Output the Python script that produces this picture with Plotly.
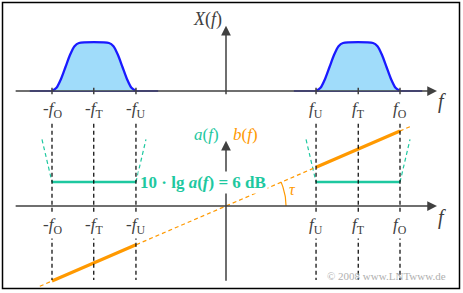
import numpy as np
import plotly.graph_objects as go

# ---- data (frequency units) ----
f_U, f_T, f_O = 2.07, 3.04, 4.0
tick_pos = [-f_O, -f_T, -f_U, f_U, f_T, f_O]
tick_txt = ["-<i>f</i><sub>O</sub>", "-<i>f</i><sub>T</sub>", "-<i>f</i><sub>U</sub>",
            "<i>f</i><sub>U</sub>", "<i>f</i><sub>T</sub>", "<i>f</i><sub>O</sub>"]

# spectrum X(f): right lobe and left lobe
specR_f = [1.56, 2.07, 2.173, 2.277, 2.38, 2.483, 2.587, 2.69, 3.38, 3.483, 3.587, 3.69, 3.793, 3.897, 4.0, 4.51]
specR_X = [0, 0, 0.067, 0.25, 0.5, 0.75, 0.933, 1.0, 1.0, 0.933, 0.75, 0.5, 0.25, 0.067, 0, 0]
specL_f = [-4.51, -4.0, -3.897, -3.793, -3.69, -3.587, -3.483, -3.38, -2.69, -2.587, -2.483, -2.38, -2.277, -2.173, -2.07, -1.56]
specL_X = [0, 0, 0.067, 0.25, 0.5, 0.75, 0.933, 1.0, 1.0, 0.933, 0.75, 0.5, 0.25, 0.067, 0, 0]

# attenuation a(f) level (plot units) inside the bands, and its dashed flanks
a_level = 0.55
a_flankL_f = [-4.23, -4.0, None, -2.07, -1.84]
a_flankL_y = [1.53, 0.55, None, 0.55, 1.53]
a_flankR_f = [1.84, 2.07, None, 4.0, 4.23]
a_flankR_y = [1.53, 0.55, None, 0.55, 1.53]

# phase b(f)
b_dash_f = [-4.28, 4.28]
b_dash_y = [-1.845, 1.845]
b_solidL_f = [-4.0, -2.07]
b_solidL_y = [-1.724, -0.892]
b_solidR_f = [2.07, 4.0]
b_solidR_y = [0.892, 1.724]
tau_angle_deg = 23.3

# ---- figure ----
GREEN = "rgb(30,200,160)"
ORANGE = "#ff9900"
GRAY = "#404040"
FONT = "Liberation Serif, DejaVu Serif, serif"

fig = go.Figure()

# spectrum
for fx, X in [(specL_f, specL_X), (specR_f, specR_X)]:
    # baseline part (lighter)
    fig.add_trace(go.Scatter(x=[fx[0], fx[-1]], y=[X[0], X[-1]], mode="lines",
                             line=dict(color="#5050ff", width=1.8), yaxis="y", hoverinfo="skip"))
    fig.add_trace(go.Scatter(x=fx[1:-1], y=X[1:-1], mode="lines", fill="tozeroy",
                             fillcolor="rgb(160,220,250)",
                             line=dict(color="#1a1aff", width=2.3, shape="spline", smoothing=0.7),
                             yaxis="y", hoverinfo="skip"))

# a(f)
fig.add_trace(go.Scatter(x=a_flankL_f + [None] + a_flankR_f, y=a_flankL_y + [None] + a_flankR_y,
                         mode="lines", line=dict(color=GREEN, width=1.2, dash="4px,3px"),
                         yaxis="y2", connectgaps=False, hoverinfo="skip"))
fig.add_trace(go.Scatter(x=[-f_O, -f_U, None, f_U, f_O], y=[a_level, a_level, None, a_level, a_level],
                         mode="lines", line=dict(color=GREEN, width=2.5), yaxis="y2",
                         connectgaps=False, hoverinfo="skip"))

# b(f)
fig.add_trace(go.Scatter(x=b_dash_f, y=b_dash_y, mode="lines",
                         line=dict(color=ORANGE, width=1.2, dash="4px,3px"), yaxis="y2", hoverinfo="skip"))
fig.add_trace(go.Scatter(x=b_solidL_f + [None] + b_solidR_f, y=b_solidL_y + [None] + b_solidR_y,
                         mode="lines", line=dict(color=ORANGE, width=3.2), yaxis="y2",
                         connectgaps=False, hoverinfo="skip"))

# angle arc tau
r = 1.38
ang = np.radians(np.linspace(0, tau_angle_deg, 20))
fig.add_trace(go.Scatter(x=r * np.cos(ang), y=r * np.sin(ang), mode="lines",
                         line=dict(color=ORANGE, width=1.2), yaxis="y2", hoverinfo="skip"))

shapes = []
# dashed vertical lines
for p in tick_pos:
    shapes.append(dict(type="line", xref="x", yref="y2", x0=p, x1=p, y0=2.05, y1=-1.70,
                       line=dict(color="black", width=1.2, dash="4px,3px"), layer="above"))
# upper tick marks
for p in tick_pos:
    shapes.append(dict(type="line", xref="x", yref="y", x0=p, x1=p, y0=0.07, y1=-0.07,
                       line=dict(color=GRAY, width=1.5)))
# border
shapes.append(dict(type="rect", xref="paper", yref="paper", x0=2.5 / 463, x1=459.5 / 463,
                   y0=1 - 288.5 / 293, y1=1 - 2.5 / 293, line=dict(color="black", width=1.5)))

ann = []
def arrow(x0, y0, x1, y1, yref):
    ann.append(dict(x=x1, y=y1, ax=x0, ay=y0, xref="x", yref=yref, axref="x", ayref=yref,
                    text="", showarrow=True, arrowhead=2, arrowsize=1.3, arrowwidth=1.5,
                    arrowcolor=GRAY, standoff=0))

# axes
arrow(-4.87, 0, 4.85, 0, "y")
arrow(0, -0.10, 0, 1.36, "y")
arrow(-4.87, 0, 4.85, 0, "y2")
arrow(0, -1.75, 0, 1.50, "y2")

def label(x, y, text, yref, size=16, color=GRAY, bg=None, xanchor="center"):
    d = dict(x=x, y=y, xref="x", yref=yref, text=text, showarrow=False, xanchor=xanchor,
             font=dict(family=FONT, size=size, color=color))
    if bg:
        d["bgcolor"] = bg
    ann.append(d)

for p, t in zip(tick_pos, tick_txt):
    label(p, -0.40, t, "y", size=17, bg="white")
    label(p, -0.47, t, "y2", size=17, bg="white")

label(4.97, -0.22, "<i>f</i>", "y", size=20)
label(4.97, -0.27, "<i>f</i>", "y2", size=20)
label(-0.43, 1.48, "<i>X</i>(<i>f</i>)", "y", size=18)
label(-0.44, 1.64, "<i>a</i>(<i>f</i>)", "y2", size=17, color=GREEN)
label(0.44, 1.64, "<i>b</i>(<i>f</i>)", "y2", size=17, color=ORANGE)
label(-0.54, 0.55, "<b>10 · lg <i>a</i>(<i>f</i>) = 6 dB</b>", "y2", size=17, color=GREEN, bg="white")
label(1.52, 0.37, "<i>τ</i>", "y2", size=16, color=ORANGE)
label(5.10, -1.61, "© 2008 www.LNTwww.de", "y2", size=11, color="#b0b0b0", xanchor="right")

fig.update_layout(
    width=463, height=293, margin=dict(l=0, r=0, t=0, b=0),
    paper_bgcolor="white", plot_bgcolor="white", showlegend=False,
    xaxis=dict(range=[-226 / 43.5, 237 / 43.5], visible=False, fixedrange=True),
    yaxis=dict(range=[-4.208, 1.896], visible=False, fixedrange=True),
    yaxis2=dict(range=[-2.0, 4.736], visible=False, overlaying="y", fixedrange=True),
    shapes=shapes, annotations=ann,
)

fig.write_html("out.html")
